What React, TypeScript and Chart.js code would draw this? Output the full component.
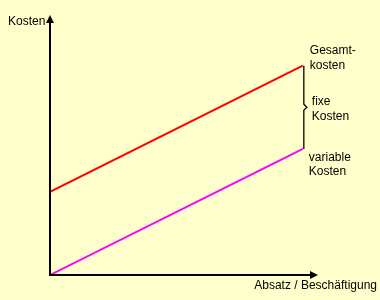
import React, { useEffect, useRef } from "react";
import { Chart, registerables } from "chart.js";

Chart.register(...registerables);

// Data
const outputLevels = [0, 100]; // Absatz / Beschäftigung
const totalCosts = [32, 80.5]; // Gesamtkosten
const variableCosts = [0, 48.5]; // variable Kosten
const xAxisMax = 106;
const yAxisMax = 100;

const yAxisLabel = "Kosten";
const xAxisLabel = "Absatz / Beschäftigung";
const totalLabel = ["Gesamt-", "kosten"];
const fixedLabel = ["fixe", "Kosten"];
const variableLabel = ["variable", "Kosten"];

const FONT = "12px 'Liberation Sans', Arial, sans-serif";

const decorPlugin = {
  id: "decor",
  afterDatasetsDraw(chart: any) {
    const ctx = chart.ctx;
    const xs = chart.scales.x;
    const ys = chart.scales.y;
    const x0 = xs.getPixelForValue(0);
    const y0 = ys.getPixelForValue(0);
    const xTip = xs.getPixelForValue(xAxisMax);
    const yTip = ys.getPixelForValue(yAxisMax);
    ctx.save();
    ctx.strokeStyle = "#000";
    ctx.fillStyle = "#000";
    ctx.lineWidth = 2;
    // y axis
    ctx.beginPath();
    ctx.moveTo(x0, y0 + 1);
    ctx.lineTo(x0, yTip + 6);
    ctx.stroke();
    ctx.beginPath();
    ctx.moveTo(x0, yTip);
    ctx.lineTo(x0 - 4, yTip + 8);
    ctx.lineTo(x0 + 4, yTip + 8);
    ctx.closePath();
    ctx.fill();
    // x axis
    ctx.beginPath();
    ctx.moveTo(x0 - 1, y0);
    ctx.lineTo(xTip - 6, y0);
    ctx.stroke();
    ctx.beginPath();
    ctx.moveTo(xTip, y0);
    ctx.lineTo(xTip - 8, y0 - 4);
    ctx.lineTo(xTip - 8, y0 + 4);
    ctx.closePath();
    ctx.fill();

    // brace for fixed costs
    const last = outputLevels.length - 1;
    const bx = xs.getPixelForValue(outputLevels[last]) + 1;
    const bTop = ys.getPixelForValue(totalCosts[last]);
    const bBot = ys.getPixelForValue(variableCosts[last]);
    const bMid = (bTop + bBot) / 2;
    ctx.lineWidth = 1.3;
    ctx.beginPath();
    ctx.moveTo(bx, bTop);
    ctx.lineTo(bx, bMid - 3);
    ctx.lineTo(bx + 3, bMid);
    ctx.lineTo(bx, bMid + 3);
    ctx.lineTo(bx, bBot);
    ctx.stroke();

    // texts
    ctx.font = FONT;
    ctx.textBaseline = "middle";
    ctx.textAlign = "left";
    ctx.fillText(yAxisLabel, x0 - 42, yTip + 7);
    ctx.textAlign = "right";
    ctx.fillText(xAxisLabel, 377, y0 + 11);
    ctx.textAlign = "left";
    ctx.fillText(totalLabel[0], bx + 6, bTop - 15);
    ctx.fillText(totalLabel[1], bx + 6, bTop);
    ctx.fillText(fixedLabel[0], bx + 8, bMid - 6);
    ctx.fillText(fixedLabel[1], bx + 8, bMid + 9);
    ctx.fillText(variableLabel[0], bx + 5, bBot + 9);
    ctx.fillText(variableLabel[1], bx + 5, bBot + 23);
    ctx.restore();
  },
};

export default function App() {
  const ref = useRef<HTMLCanvasElement>(null);
  useEffect(() => {
    if (!ref.current) return;
    const chart = new Chart(ref.current, {
      type: "line",
      data: {
        datasets: [
          {
            label: "Gesamtkosten",
            data: outputLevels.map((x, i) => ({ x, y: totalCosts[i] })),
            borderColor: "#FF0000",
            borderWidth: 2,
            pointRadius: 0,
            fill: false,
          },
          {
            label: "variable Kosten",
            data: outputLevels.map((x, i) => ({ x, y: variableCosts[i] })),
            borderColor: "#FF00FF",
            borderWidth: 2,
            pointRadius: 0,
            fill: false,
          },
        ],
      },
      options: {
        responsive: false,
        animation: false,
        layout: { padding: { left: 50, right: 62, top: 15, bottom: 25 } },
        plugins: { legend: { display: false }, tooltip: { enabled: false } },
        scales: {
          x: { type: "linear", min: 0, max: xAxisMax, display: false },
          y: { type: "linear", min: 0, max: yAxisMax, display: false },
        },
      },
      plugins: [decorPlugin],
    });
    return () => chart.destroy();
  }, []);
  return (
    <div
      style={{
        position: "fixed",
        left: 0,
        top: 0,
        width: 380,
        height: 300,
        background: "#FFFFCC",
      }}
    >
      <canvas ref={ref} width={380} height={300} />
    </div>
  );
}
